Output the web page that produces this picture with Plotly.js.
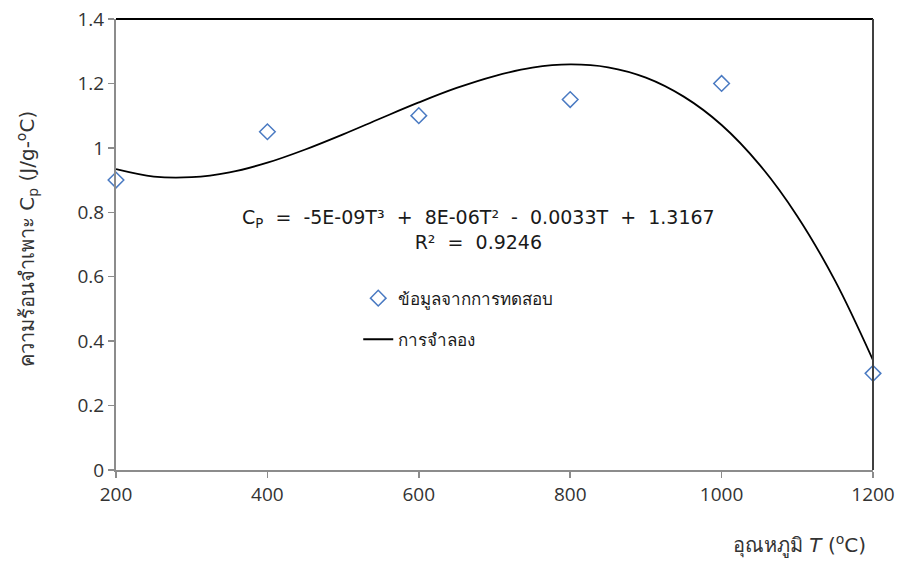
<!DOCTYPE html>
<html>
<head>
<meta charset="utf-8">
<script src="https://cdn.plot.ly/plotly-3.0.1.min.js"></script>
<style>html,body{margin:0;padding:0;background:#fff;}#chart{width:902px;height:561px;}</style>
</head>
<body>
<div id="chart"></div>
<script>
// Measured data (temperature °C, specific heat J/g-°C)
const tempData = [200, 400, 600, 800, 1000, 1200];
const cpData = [0.90, 1.05, 1.10, 1.15, 1.20, 0.30];

// Trend curve
const tempCurve = [200, 250, 300, 350, 400, 450, 500, 550, 600, 650, 700, 750, 800, 850, 900, 950, 1000, 1050, 1100, 1150, 1200];
const cpCurve = [0.934, 0.911, 0.909, 0.924, 0.954, 0.995, 1.042, 1.092, 1.141, 1.186, 1.223, 1.249, 1.259, 1.250, 1.218, 1.159, 1.071, 0.948, 0.788, 0.587, 0.341];

const yTicks = [0, 0.2, 0.4, 0.6, 0.8, 1, 1.2, 1.4];
const yTickText = ["0", "0.2", "0.4", "0.6", "0.8", "1", "1.2", "1.4"];
const xTicks = [200, 400, 600, 800, 1000, 1200];
const xTickText = ["200", "400", "600", "800", "1000", "1200"];

const seriesNames = ["ข้อมูลจากการทดสอบ", "การจำลอง"];
const sp = "\u00a0\u00a0";
const eqText = "C<sub>P</sub>" + sp + "=" + sp + "-5E-09T³" + sp + "+" + sp + "8E-06T²" + sp + "-" + sp + "0.0033T" + sp + "+" + sp + "1.3167<br>R²" + sp + "=" + sp + "0.9246";
const yTitle = "ความร้อนจำเพาะ C<sub>p</sub> (J/g-<sup>o</sup>C)";
const xTitle = "อุณหภูมิ <i>T</i> (<sup>o</sup>C)";

const font = "'Open Sans', 'Noto Sans', sans-serif";
const wideFont = "'DejaVu Sans', 'Noto Sans', sans-serif";

const traces = [
  {
    x: tempData, y: cpData, type: 'scatter', mode: 'markers', name: seriesNames[0],
    legendgroup: 'a',
    marker: {symbol: 'diamond-open', size: 12, color: '#4a7ac2', line: {width: 1.5, color: '#4a7ac2'}},
    cliponaxis: false
  },
  {
    x: tempCurve, y: cpCurve, type: 'scatter', mode: 'lines', name: seriesNames[1],
    legendgroup: 'b',
    line: {color: '#000000', width: 1.8, shape: 'spline'}
  }
];

const layout = {
  width: 902, height: 561,
  margin: {l: 116, r: 29, t: 19, b: 91},
  paper_bgcolor: '#ffffff', plot_bgcolor: '#ffffff',
  font: {family: font, size: 17, color: '#404040'},
  xaxis: {
    range: [200, 1200], tickvals: xTicks, ticktext: xTickText,
    showgrid: false, zeroline: false, showline: true, linecolor: '#8c8c8c', linewidth: 2,
    ticks: 'outside', ticklen: 6, tickcolor: '#8c8c8c', tickwidth: 1.5,
    tickfont: {family: font, size: 19, color: '#333333'}
  },
  yaxis: {
    range: [0, 1.4], tickvals: yTicks, ticktext: yTickText,
    showgrid: false, zeroline: false, showline: true, linecolor: '#8c8c8c', linewidth: 2,
    ticks: 'outside', ticklen: 6, tickcolor: '#8c8c8c', tickwidth: 1.5,
    tickfont: {family: font, size: 19, color: '#333333'}
  },
  shapes: [
    {type: 'line', xref: 'paper', yref: 'paper', x0: 0, x1: 1, y0: 1, y1: 1, line: {color: '#000000', width: 2}},
    {type: 'line', xref: 'paper', yref: 'paper', x0: 1, x1: 1, y0: 0, y1: 1, line: {color: '#404040', width: 2}}
  ],
  annotations: [
    {text: eqText, xref: 'paper', yref: 'paper', x: 0.4795, y: 0.533, xanchor: 'center', yanchor: 'middle',
     showarrow: false, align: 'center', font: {family: wideFont, size: 19, color: '#1a1a1a'}},
    {text: xTitle, xref: 'paper', yref: 'paper', x: 0.994, y: -0.166, xanchor: 'right', yanchor: 'middle',
     showarrow: false, font: {family: wideFont, size: 20, color: '#333333'}},
    {text: yTitle, xref: 'paper', yref: 'paper', x: -0.1176, y: 0.512, xanchor: 'center', yanchor: 'middle',
     textangle: -90, showarrow: false, font: {family: wideFont, size: 20, color: '#333333'}}
  ],
  legend: {
    x: 0.32, y: 0.42, xanchor: 'left', yanchor: 'top',
    bgcolor: 'rgba(0,0,0,0)', borderwidth: 0,
    traceorder: 'grouped', tracegroupgap: 16,
    font: {family: font, size: 17, color: '#1a1a1a'}
  },
  showlegend: true
};

Plotly.newPlot('chart', traces, layout, {staticPlot: true, displayModeBar: false});
</script>
</body>
</html>
